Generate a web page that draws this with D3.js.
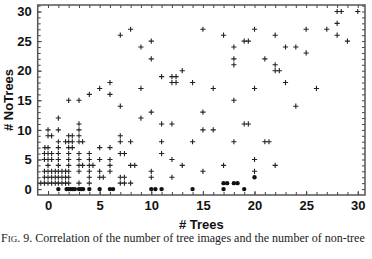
<!DOCTYPE html>
<html>
<head>
<meta charset="utf-8">
<script src="https://d3js.org/d3.v7.min.js"></script>
<style>
  body { margin: 0; background: #fff; }
  .tick text { font-family: Arial, "Liberation Sans", sans-serif; font-weight: bold; font-size: 13px; fill: #111; }
  .axis path, .axis line { stroke: #444; }
  .title { font-family: Arial, "Liberation Sans", sans-serif; font-weight: bold; font-size: 13px; fill: #111; }
  .caption { font-family: "Liberation Serif", "Times New Roman", serif; font-size: 12px; fill: #222; }
</style>
</head>
<body>
<script>
// # tree images vs # non-tree images, one '+' per query
const plusPts = [
  [7,26],[8,27],[9,24],[10,25],[10,22],[11,19],[12,19],[12.4,19],[12,18],[12.4,18],[13,20],[14,18],
  [6,18],[6,16],[5,17],[4,16],[3,15],[2,15],[1,12],[7,14],[9,17],[9,12],[10,13],
  [28,30],[28.4,30],[30,30],[28,28],[28,26],[29,25],[27,27],[25,27],[25,23],[24,24],[23,24],
  [22,26],[22,21],[22,20],[22.4,20],[21,22],[23,18],[24,14],[26,17],[20,27],[20,17],
  [19,25],[19.4,25],[18,24],[18,22],[18,21],[18,15],[17,26],[16,17],[15,27],[15,13],
  [15,10],[16,10],[19,11],[19.4,11],[14,8],[18,8],[21,8],[21.4,8],[13,4],[15,3],[17,4],[20,5],[20,3],[22,4],
  [11,11],[12,11],[8,8],[11,8],[11,6],[12,5],[8,4],[8.4,4],[10,3],[10,2],[12,2],[8,1],
  [7,1],[7.4,1],[7,2],[7.4,2],[7,6],[7.4,6],[7,8],[7,9],[5,7],[6,7],
  // dense corner
  [3,11],[0,10],[1,10],[3,10],
  [0,9],[0.35,9],[2,9],[2.35,9],[3,9],
  [1,8],[1.7,8],[2,8],[2.35,8],[3,8],[3.35,8],
  [-0.3,7],[0,7],[1,7],[2,7],[2.35,7],
  [-0.35,6],[0,6],[0.35,6],[1,6],[2,6],[3,6],[4,6],
  [-0.35,5],[0,5],[0.35,5],[1,5],[2,5],[3,5],[4,5],[5,5],[6,5],
  [0,4],[1,4],[2,4],[3,4],[3.35,4],[4,4],[4.35,4],[6,4],
  [-0.35,3],[0,3],[0.35,3],[0.7,3],[1,3],[1.35,3],[1.7,3],[2,3],[3,3],[4,3],[5,3],[6,3],
  [-0.35,2],[0,2],[0.35,2],[0.7,2],[1,2],[1.35,2],[1.7,2],[2,2],[4,2],[5,2],[5.35,2],
  [-0.7,1],[-0.35,1],[0,1],[0.35,1],[0.7,1],[1,1],[1.35,1],[1.7,1],[2,1],[3,1],[4,1]
];
// filled dots
const dotPts = [
  [1,0],[1.8,0],[2,0],[2.2,0],[2.4,0],[2.6,0],[3,0],[3.2,0],[3.4,0],[4,0],[5,0],[6,0],[6.3,0],
  [10,0],[10.4,0],[11,0],[14,0],[17,0],[19,0],[17,1],[17.35,1],[18,1],[18.35,1],[20,2]
];
const xTicks = [0, 5, 10, 15, 20, 25, 30];
const yTicks = [0, 5, 10, 15, 20, 25, 30];
const minorTicks = d3.range(-1, 32);

const W = 372, H = 259;
const svg = d3.select('body').append('svg').attr('width', W).attr('height', H);

const x = d3.scaleLinear().domain([-1, 30.7]).range([37.7, 365]);
const y = d3.scaleLinear().domain([-1, 31.1]).range([195, 5]);

const [x0, x1] = x.range(), [y0, y1] = y.range();

// minor ticks on all four sides, pointing in
const minorX = minorTicks.filter(v => v > -1 && v < 30.7);
const minorY = minorTicks.filter(v => v > -1 && v < 31.1);
svg.append('g').attr('class', 'axis').attr('transform', `translate(0,${y0})`)
  .call(d3.axisBottom(x).tickValues(minorX).tickSize(-3).tickFormat(''));
svg.append('g').attr('class', 'axis').attr('transform', `translate(0,${y1})`)
  .call(d3.axisTop(x).tickValues(minorX).tickSize(-3).tickFormat(''));
svg.append('g').attr('class', 'axis').attr('transform', `translate(${x0},0)`)
  .call(d3.axisLeft(y).tickValues(minorY).tickSize(-3).tickFormat(''));
svg.append('g').attr('class', 'axis').attr('transform', `translate(${x1},0)`)
  .call(d3.axisRight(y).tickValues(minorY).tickSize(-3).tickFormat(''));

// labelled axes
svg.append('g').attr('class', 'axis').attr('transform', `translate(0,${y0})`)
  .call(d3.axisBottom(x).tickValues(xTicks).tickSize(-4).tickPadding(6));
svg.append('g').attr('class', 'axis').attr('transform', `translate(${x0},0)`)
  .call(d3.axisLeft(y).tickValues(yTicks).tickSize(-4).tickPadding(6));
svg.selectAll('.axis .domain').remove();

// frame
svg.append('rect')
  .attr('x', x0).attr('y', y1).attr('width', x1 - x0).attr('height', y0 - y1)
  .attr('fill', 'none').attr('stroke', '#555').attr('stroke-width', 1.5);

// plus markers
const s = 2.6;
svg.append('g').selectAll('path').data(plusPts).join('path')
  .attr('d', d => `M${x(d[0]) - s},${y(d[1])}h${2 * s}M${x(d[0])},${y(d[1]) - s}v${2 * s}`)
  .attr('stroke', '#222').attr('stroke-width', 1.1).attr('fill', 'none');

svg.append('g').selectAll('circle').data(dotPts).join('circle')
  .attr('cx', d => x(d[0])).attr('cy', d => y(d[1])).attr('r', 2.2)
  .attr('fill', '#111');

// titles
svg.append('text').attr('class', 'title')
  .attr('x', (x0 + x1) / 2).attr('y', 229).attr('text-anchor', 'middle').text('# Trees');
svg.append('text').attr('class', 'title')
  .attr('transform', `translate(13,${(y0 + y1) / 2}) rotate(-90)`)
  .attr('text-anchor', 'middle').text('# NoTrees');

// caption
const cap = svg.append('text').attr('class', 'caption').attr('x', 1).attr('y', 242);
cap.append('tspan').text('F');
cap.append('tspan').attr('font-size', '9px').text('IG');
cap.append('tspan').text('. 9. Correlation of the number of tree images and the number of non-tree');
</script>
</body>
</html>
